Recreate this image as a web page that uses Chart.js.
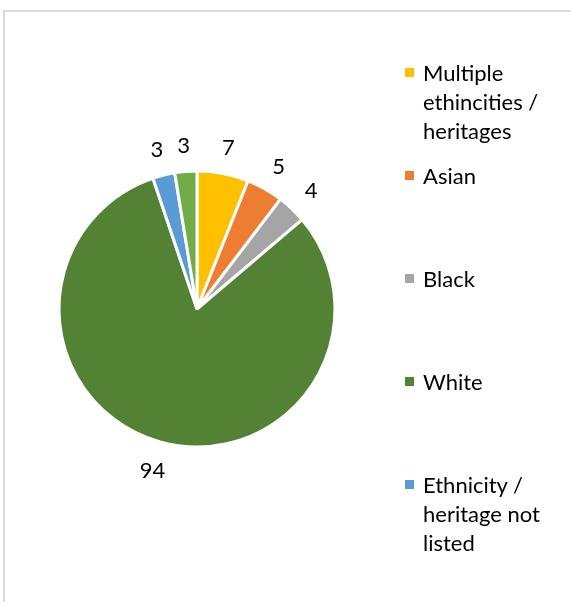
<!DOCTYPE html>
<html>
<head>
<meta charset="utf-8">
<script src="https://cdn.jsdelivr.net/npm/chart.js@4.4.1/dist/chart.umd.min.js"></script>
<style>
    html, body {
        margin: 0;
        padding: 0;
        background: #ffffff;
        width: 571px;
        height: 602px;
        overflow: hidden;
    }
    #frame {
        position: absolute;
        left: 3px;
        top: 10px;
        width: 600px;
        height: 620px;
        border-left: 2px solid #d9d9d9;
        border-top: 2px solid #d9d9d9;
        box-sizing: border-box;
    }
    #wrap {
        position: absolute;
        left: 0;
        top: 0;
        width: 571px;
        height: 602px;
    }
    #legend {
        position: absolute;
        left: 403px;
        top: 58px;
        margin: 0;
        padding: 0;
        list-style: none;
        font-family: Lato, "Open Sans", sans-serif;
        font-size: 22px;
        line-height: 29px;
        color: #000000;
    }
    #legend li {
        position: relative;
        height: 103px;
        padding-left: 20px;
        width: 150px;
    }
    #legend .swatch {
        position: absolute;
        left: 2px;
        top: 10px;
        width: 9px;
        height: 9px;
    }
</style>
</head>
<body>
<div id="frame"></div>
<div id="wrap"><canvas id="ethnicity-chart" width="571" height="602"></canvas></div>
<ul id="legend"></ul>

<script>
// Ethnicity / heritage breakdown
const categories = [
    'Multiple ethincities / heritages',
    'Asian',
    'Black',
    'White',
    'Ethnicity / heritage not listed',
    'Other'
];
const counts = [7, 5, 4, 94, 3, 3];
const sliceColors = ['#ffc000', '#ed7d31', '#a5a5a5', '#548235', '#5b9bd5', '#70ad47'];
// only the first five categories appear in the key
const legendCount = 5;

// Draw each slice's count just outside the pie
const outsideLabels = {
    id: 'outsideLabels',
    afterDatasetsDraw(chart) {
        const ctx = chart.ctx;
        const meta = chart.getDatasetMeta(0);
        ctx.save();
        ctx.font = '22px Lato, "Open Sans", sans-serif';
        ctx.fillStyle = '#000000';
        ctx.textAlign = 'center';
        ctx.textBaseline = 'middle';
        meta.data.forEach((arc, i) => {
            const {x, y, startAngle, endAngle, outerRadius} = arc.getProps(['x', 'y', 'startAngle', 'endAngle', 'outerRadius'], true);
            const mid = (startAngle + endAngle) / 2;
            const r = outerRadius + 28;
            ctx.fillText(String(chart.data.datasets[0].data[i]), x + Math.cos(mid) * r, y + Math.sin(mid) * r + 2);
        });
        ctx.restore();
    }
};

const chart = new Chart(document.getElementById('ethnicity-chart'), {
    type: 'pie',
    data: {
        labels: categories,
        datasets: [{
            data: counts,
            backgroundColor: sliceColors,
            borderColor: '#ffffff',
            borderWidth: 3,
            radius: 138
        }]
    },
    options: {
        responsive: false,
        animation: false,
        layout: {
            padding: { left: 40, right: 217, top: 150, bottom: 134 }
        },
        plugins: {
            legend: { display: false },
            tooltip: { enabled: false }
        }
    },
    plugins: [outsideLabels]
});

// Key on the right
function buildLegend() {
    const list = document.getElementById('legend');
    categories.slice(0, legendCount).forEach((name, i) => {
        const li = document.createElement('li');
        const sw = document.createElement('span');
        sw.className = 'swatch';
        sw.style.background = sliceColors[i];
        li.appendChild(sw);
        li.appendChild(document.createTextNode(name));
        list.appendChild(li);
    });
}
buildLegend();
</script>
</body>
</html>
